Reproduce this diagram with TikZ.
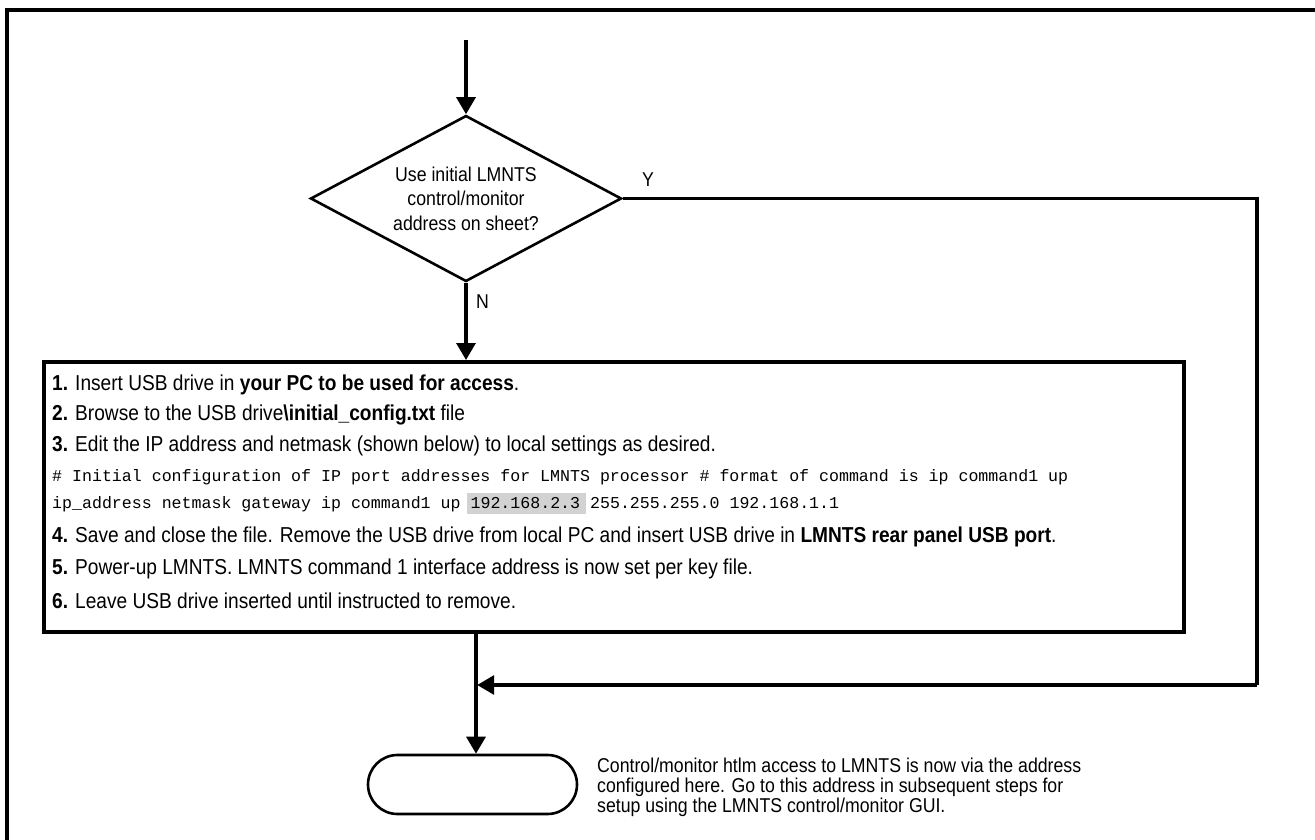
\documentclass[tikz,border=0pt]{standalone}
\usepackage{fontspec}
\setmainfont{Liberation Sans}[FakeStretch=0.885]
\setmonofont{Liberation Mono}
\usetikzlibrary{shapes.geometric,arrows.meta}
\definecolor{hlgray}{HTML}{D2D2D2}
\newsavebox\hlbox
% grey marker behind a piece of text, not changing its width
\newcommand\hilite[1]{\sbox\hlbox{#1}\makebox[0pt][l]{\hspace{-4pt}\textcolor{hlgray}{\rule[-5pt]{\dimexpr\wd\hlbox+10pt\relax}{21pt}}}\usebox\hlbox}
\tikzset{
  flow/.style={line width=3.2pt,-{Triangle[length=17pt,width=19pt]}},
  conn/.style={line width=3.2pt},
  txt/.style={font=\fontsize{21.6}{24}\selectfont,inner sep=0pt,anchor=west},
  code/.style={font=\ttfamily\fontsize{16.6}{18}\selectfont,inner sep=0pt,anchor=west},
  decision/.style={diamond,aspect=1.873,draw,line width=2.6pt,minimum width=311pt,minimum height=166pt,
    inner sep=0pt,align=center,font=\fontsize{20}{24.5}\selectfont},
  stepsbox/.style={draw,line width=4pt,minimum width=1140pt,minimum height=270pt,inner sep=0pt},
  terminal/.style={draw,line width=2.6pt,rounded corners=29.5pt,minimum width=209pt,
    minimum height=59pt,inner sep=0pt},
}
\begin{document}
\begin{tikzpicture}[x=1pt,y=-1pt]
\useasboundingbox (0,0) rectangle (1315,840);
\clip (0,0) rectangle (1315,840);
% sheet frame (only top and left edges fall inside the page)
\draw[line width=4pt] (7,850) -- (7,10) -- (1325,10);

% decision
\coordinate (start) at (466,40);
\node[decision] (dec) at (466,198.5) {Use initial LMNTS\\control/monitor\\address on sheet?};
\draw[flow] (start) -- (dec.north);

% steps box
\node[stepsbox] (box) at (614,497) {};
\draw[flow] (dec.south) -- (dec.south |- box.north);
\node[txt,font=\fontsize{20}{24}\selectfont] at (476,302) (nlab) {N};
\node[txt,font=\fontsize{20}{24}\selectfont] at (642,180) (ylab) {Y};

\node[txt] (s1) at (52,385) {\textbf{1.} Insert USB drive in \textbf{your PC to be used for access}.};
\node[txt] (s2) at (52,415) {\textbf{2.} Browse to the USB drive\textbf{\textbackslash initial\_config.txt} file};
\node[txt] (s3) at (52,446) {\textbf{3.} Edit the IP address and netmask (shown below) to local settings as desired.};
\node[code] (c1) at (52,477) {\# Initial configuration of IP port addresses for LMNTS processor \# format of command is ip command1 up};
\node[code] (c2) at (52,503) {ip\_address netmask gateway ip command1 up \hilite{192.168.2.3} 255.255.255.0 192.168.1.1};
\node[txt] (s4) at (52,537) {\textbf{4.} Save and close the file. Remove the USB drive from local PC and insert USB drive in \textbf{LMNTS rear panel USB port}.};
\node[txt] (s5) at (52,569) {\textbf{5.} Power-up LMNTS. LMNTS command 1 interface address is now set per key file.};
\node[txt] (s6) at (52,601) {\textbf{6.} Leave USB drive inserted until instructed to remove.};

% yes branch rejoins below the steps
\coordinate (yr) at (1257,198.5);
\coordinate (yb) at (1257,685);
\coordinate (join) at (476,685);
\draw[conn] (dec.east) -- (yr) -- (yb);
\draw[flow,shorten >=1.2pt] (yb) -- (join);

% end terminal
\node[terminal] (term) at (472.5,784.5) {};
\draw[flow] (box.south -| join) -- (term.north -| join);

\node[txt,align=left,font=\fontsize{20}{20}\selectfont] (note) at (597,787)
  {Control/monitor htlm access to LMNTS is now via the address\\configured here. Go to this address in subsequent steps for\\setup using the LMNTS control/monitor GUI.};
\end{tikzpicture}
\end{document}
